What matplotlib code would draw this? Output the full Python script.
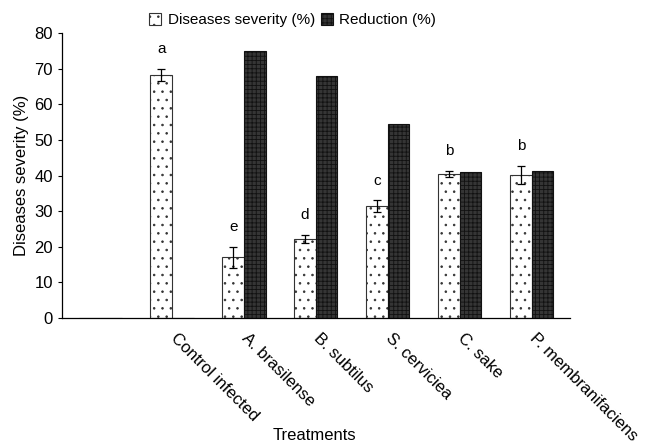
import numpy as np
import matplotlib.pyplot as plt
import matplotlib.transforms as mtransforms

plt.rcParams['font.family'] = ['Liberation Sans', 'DejaVu Sans']

# data
treatments = ['', 'Control infected', 'A. brasilense', 'B. subtilus',
              'S. cerviciea', 'C. sake', 'P. membranifaciens']
severity = [0, 68.2, 17.0, 22.2, 31.5, 40.4, 40.2]
severity_err = [0, 1.8, 3.0, 1.2, 1.6, 0.9, 2.5]
reduction = [0, 0, 75.0, 67.8, 54.4, 41.1, 41.3]
letters = ['', 'a', 'e', 'd', 'c', 'b', 'b']

x = np.arange(len(treatments))
w = 0.3

fig = plt.figure(figsize=(6.49, 4.43), dpi=100)
ax = fig.add_axes([0.0955, 0.282, 0.7825, 0.6435])

plt.rcParams['hatch.linewidth'] = 0.6
b1 = ax.bar(x - w / 2, severity, w, color='white', edgecolor='#333333',
            linewidth=0.8, hatch='..', label='Diseases severity (%)')
b2 = ax.bar(x + w / 2, reduction, w, color='#353535', edgecolor='#111111',
            linewidth=0.8, hatch='++++', label='Reduction (%)')
ax.errorbar(x[1:] - w / 2, severity[1:], yerr=severity_err[1:], fmt='none',
            ecolor='black', elinewidth=0.9, capsize=3, capthick=0.9)

for xi, s, e, lab in zip(x, severity, severity_err, letters):
    if lab:
        ax.text(xi - w / 2, s + e + 3.5, lab, ha='center', va='bottom', fontsize=11)

ax.set_xlim(-0.53, len(treatments) - 0.47)
ax.set_ylim(0, 80)
ax.set_yticks(range(0, 81, 10))
ax.tick_params(axis='y', labelsize=12, length=3, width=0.8)
ax.set_xticks(x)
ax.set_xticklabels(treatments, rotation=-45, ha='left', va='top',
                   rotation_mode='anchor', fontsize=12)
ax.tick_params(axis='x', length=0, pad=9)
shift = mtransforms.ScaledTranslation(6 / 100, 0, fig.dpi_scale_trans)
for lbl in ax.get_xticklabels():
    lbl.set_transform(lbl.get_transform() + shift)
for s in ['top', 'right']:
    ax.spines[s].set_visible(False)
ax.spines['left'].set_linewidth(0.9)
ax.spines['bottom'].set_linewidth(0.9)

ax.set_ylabel('Diseases severity (%)', fontsize=12)
ax.set_xlabel('Treatments', fontsize=12)
ax.xaxis.set_label_coords(0.498, -0.385)

fig.legend(handles=[b1, b2], loc='center', bbox_to_anchor=(0.451, 0.955), ncol=2,
           frameon=False, fontsize=11, handlelength=0.8, handleheight=0.8,
           handletextpad=0.4, columnspacing=0.4)

fig.savefig('out.png', dpi=100)
